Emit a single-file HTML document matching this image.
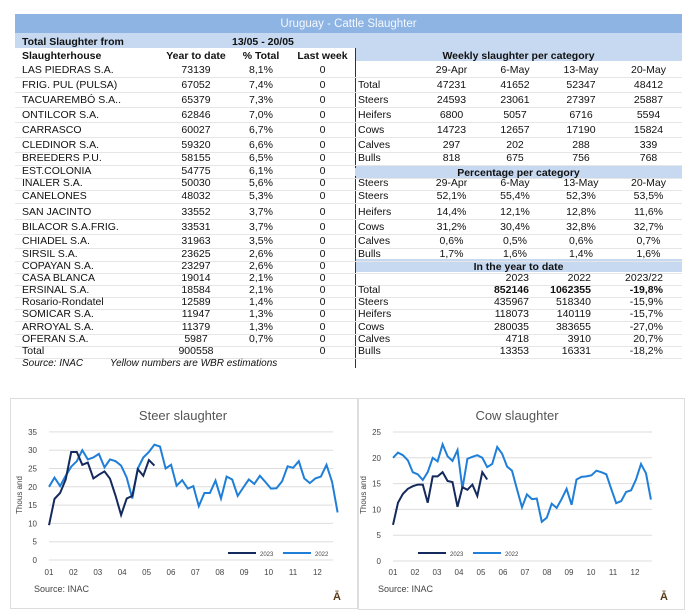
<!DOCTYPE html>
<html><head><meta charset="utf-8"><style>
body{margin:0;width:694px;height:614px;background:#fff;font-family:"Liberation Sans Narrow","Liberation Sans",sans-serif;position:relative;overflow:hidden}
.t{position:absolute;font-size:10.5px;color:#111;white-space:nowrap;line-height:12px}
.c{text-align:center}
.r{text-align:right}
.b{font-weight:bold}
.bar{position:absolute;background:#c6d9f1}
.hl{position:absolute;height:1px;background:#e6e6e6}
svg text{font-family:"Liberation Sans",sans-serif}
</style></head><body>
<div class="bar" style="left:15px;top:14px;width:667px;height:19px;background:#8db4e2"></div>
<div class="t c" style="left:15px;top:18px;width:667px;color:#f4f8ff;font-size:11.5px">Uruguay - Cattle Slaughter</div>
<div class="bar" style="left:15px;top:33px;width:667px;height:15px"></div>
<div class="bar" style="left:355px;top:48px;width:327px;height:13px"></div>
<div class="bar" style="left:355px;top:165px;width:327px;height:13px"></div>
<div class="bar" style="left:355px;top:259px;width:327px;height:13px"></div>
<div style="position:absolute;left:355px;top:48px;width:1px;height:120px;background:#333"></div>
<div style="position:absolute;left:355px;top:176px;width:1px;height:192px;background:#333"></div>
<div id="tbl"></div>
<div class="t" style="left:22px;top:358px;font-style:italic;font-size:10px">Source: INAC</div>
<div class="t" style="left:110px;top:358px;font-style:italic;font-size:10px">Yellow numbers are WBR estimations</div>
<div style="position:absolute;left:10px;top:398px;width:346px;height:209px;border:1px solid #ddd"></div>
<div style="position:absolute;left:358px;top:398px;width:325px;height:210px;border:1px solid #ddd"></div>
<svg id="ch" width="694" height="614" style="position:absolute;left:0;top:0"></svg>
<script>
var T=document.getElementById('tbl'),h='';
function t(x,y,s,cls,w){h+='<div class="t '+(cls||'')+'" style="left:'+x+'px;top:'+y+'px;'+(w?'width:'+w+'px;':'')+'">'+s+'</div>';}
t(22,36,'Total Slaughter from','b');t(232,36,'13/05 - 20/05','b');
t(22,50,'Slaughterhouse','b');t(160,50,'Year to date','b c',72);t(232,50,'% Total','b c',58);t(290,50,'Last week','b c',65);
t(355,50,'Weekly slaughter per category','b c',327);
var L=[['LAS PIEDRAS S.A.',73139,'8,1%'],['FRIG. PUL (PULSA)',67052,'7,4%'],['TACUAREMBÓ S.A..',65379,'7,3%'],['ONTILCOR S.A.',62846,'7,0%'],['CARRASCO',60027,'6,7%'],['CLEDINOR S.A.',59320,'6,6%'],['BREEDERS P.U.',58155,'6,5%'],['EST.COLONIA',54775,'6,1%'],['INALER S.A.',50030,'5,6%'],['CANELONES',48032,'5,3%'],['SAN JACINTO',33552,'3,7%'],['BILACOR S.A.FRIG.',33531,'3,7%'],['CHIADEL S.A.',31963,'3,5%'],['SIRSIL S.A.',23625,'2,6%'],['COPAYAN S.A.',23297,'2,6%'],['CASA BLANCA',19014,'2,1%'],['ERSINAL S.A.',18584,'2,1%'],['Rosario-Rondatel',12589,'1,4%'],['SOMICAR S.A.',11947,'1,3%'],['ARROYAL S.A.',11379,'1,3%'],['OFERAN S.A.',5987,'0,7%'],['Total',900558,'']];
var Y=[64,79,94,109,124,139,152,165,177,190,206,221,235,248,260,272,284,296,308,321,333,345];
var R=[['','29-Apr','6-May','13-May','20-May'],['Total',47231,41652,52347,48412],['Steers',24593,23061,27397,25887],['Heifers',6800,5057,6716,5594],['Cows',14723,12657,17190,15824],['Calves',297,202,288,339],['Bulls',818,675,756,768],null,
['Steers','29-Apr','6-May','13-May','20-May'],['Steers','52,1%','55,4%','52,3%','53,5%'],['Heifers','14,4%','12,1%','12,8%','11,6%'],['Cows','31,2%','30,4%','32,8%','32,7%'],['Calves','0,6%','0,5%','0,6%','0,7%'],['Bulls','1,7%','1,6%','1,4%','1,6%'],null,
['','','2023','2022','2023/22'],['Total','','<b>852146</b>','<b>1062355</b>','<b>-19,8%</b>'],['Steers','','435967','518340','-15,9%'],['Heifers','','118073','140119','-15,7%'],['Cows','','280035','383655','-27,0%'],['Calves','','4718','3910','20,7%'],['Bulls','','13353','16331','-18,2%']];
var cx=[420,483,547,615],cw=[63,64,68,67],rw=[0,46,44,48];
for(var i=0;i<L.length;i++){var y=Y[i];t(22,y,L[i][0]);t(160,y,L[i][1],'c',72);t(232,y,L[i][2],'c',58);t(290,y,'0','c',65);
h+='<div class="hl" style="left:15px;top:'+(y+13)+'px;width:667px"></div>';
var r=R[i];if(r){t(358,y,r[0]);for(var j=0;j<4;j++){var v=r[j+1];if(i>=15&&j>0)t(cx[j],y,v,'r',rw[j]);else if(!(i>=15&&j==0))t(cx[j],y,v,'c',cw[j]);}}}
t(355,167,'Percentage per category','b c',327);t(355,261,'In the year to date','b c',327);
T.innerHTML=h;
var s='';
function chart(o){var k;s+='<text x="'+o.tx+'" y="420" font-size="13" fill="#555" text-anchor="middle">'+o.title+'</text>';
for(k=0;k<=o.max;k+=5){var y=o.y0-k*o.py;s+='<line x1="'+o.x0+'" x2="'+o.x1+'" y1="'+y+'" y2="'+y+'" stroke="#ddd"/><text x="'+(o.x0-12)+'" y="'+(y+3)+'" font-size="8" fill="#444" text-anchor="end">'+k+'</text>';}
for(k=0;k<12;k++)s+='<text x="'+(o.x0+k*o.mx)+'" y="575" font-size="8" fill="#444" text-anchor="middle">'+(k<9?'0':'')+(k+1)+'</text>';
s+='<text transform="translate('+(o.x0-27)+',495) rotate(-90)" font-size="8" fill="#444" text-anchor="middle">Thous and</text>';
function pl(d,c){var p=d.map(function(v,i){return (o.x0+i*o.step).toFixed(1)+','+(o.y0-v*o.py).toFixed(1)}).join(' ');s+='<polyline points="'+p+'" fill="none" stroke="'+c+'" stroke-width="2"/>';}
pl(o.a,'#1f7fd8');pl(o.b,'#14295c');
s+='<line x1="'+o.lx+'" x2="'+(o.lx+28)+'" y1="553" y2="553" stroke="#14295c" stroke-width="2"/><text x="'+(o.lx+32)+'" y="556" font-size="6" fill="#444">2023</text>';
s+='<line x1="'+(o.lx+55)+'" x2="'+(o.lx+83)+'" y1="553" y2="553" stroke="#1f7fd8" stroke-width="2"/><text x="'+(o.lx+87)+'" y="556" font-size="6" fill="#444">2022</text>';
s+='<text x="'+(o.x0-15)+'" y="592" font-size="9" fill="#444">Source: INAC</text><text x="'+o.ax+'" y="600" font-size="11" font-weight="bold" fill="#5a3a1a">Ā</text>';}
chart({title:'Steer slaughter',tx:183,x0:49,x1:333,y0:560,py:3.66,max:35,mx:24.4,step:5.55,lx:228,ax:333,
a:[20,22.5,20.2,23,25.5,27,30,27.5,28,29,25.3,27.5,27,25.8,22.5,16.8,25,28,29.5,31.5,31,25,26,20.3,21.8,19.5,20.2,14.7,18.3,18.3,21.7,16.8,22.8,22,17.5,19.8,22,20.8,23,21.3,19.5,19.6,21.5,25.6,25.2,27,22.3,21,22.3,22.8,26,21.3,13],
b:[9.5,16.7,18.3,22,29.5,29.5,26,26.6,22.3,23.3,24.2,22.2,17.5,12.3,16.8,17.5,24.8,23,27.3,25.8]});
chart({title:'Cow slaughter',tx:517,x0:393,x1:652,y0:561,py:5.16,max:25,mx:22,step:4.96,lx:418,ax:660,
a:[20,21,20.5,19.5,17.2,16.8,15.7,17.2,20,19.3,22.6,20.3,19.4,21.5,14,19.8,20.2,20.5,20,18.2,18.8,22.1,20.8,18.3,17.5,13.9,10.4,12.9,12,12.1,7.6,8.4,11.1,10.3,12,14,10.9,15.8,16.3,16.4,16.6,17.5,17.2,16.8,14,11.2,11.6,13.4,13.7,15.8,18.8,17,11.9],
b:[7,11.3,13,14,14.5,14.8,14.8,11.3,16.4,16.4,17.2,15.5,15.3,10.5,14.3,13.8,14.8,12.6,17.2,15.8]});
document.getElementById('ch').innerHTML=s;
</script>
</body></html>
